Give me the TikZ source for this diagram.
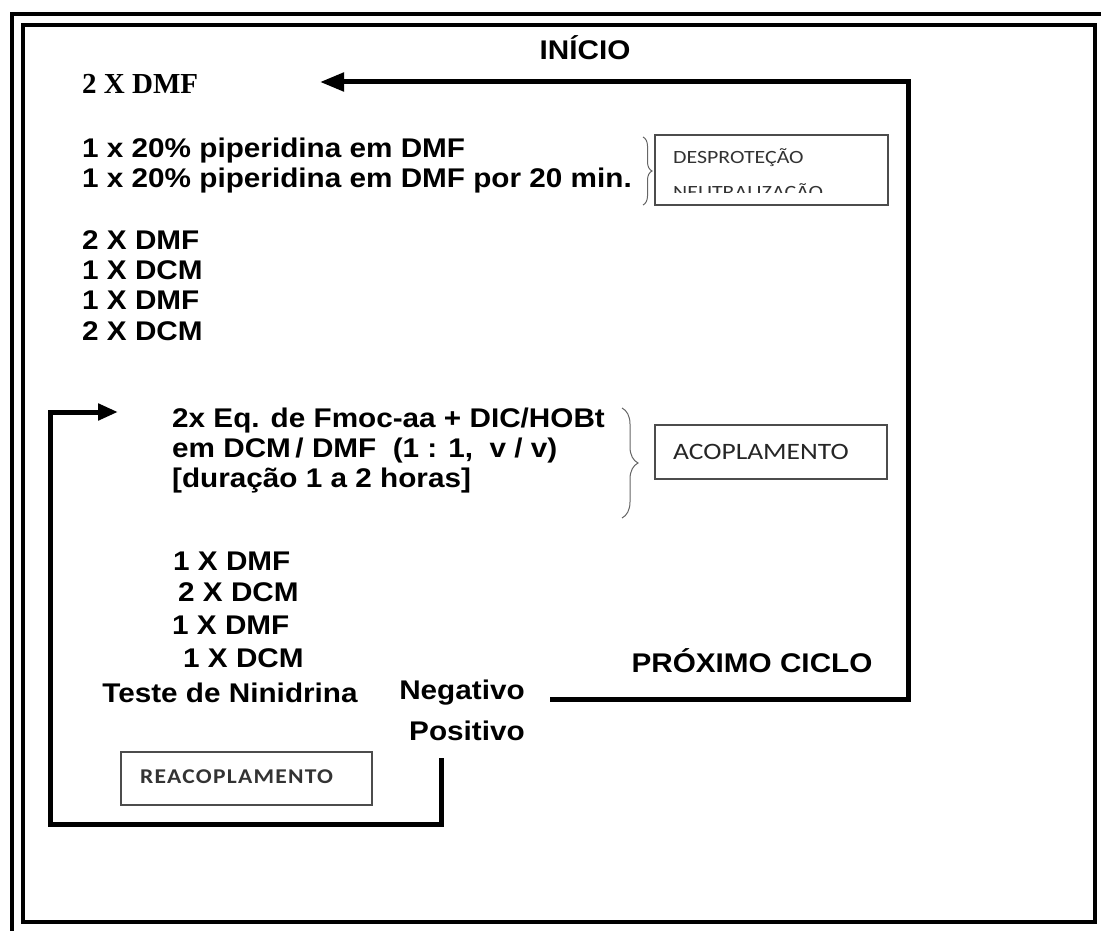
\documentclass[tikz,border=0pt]{standalone}
\usepackage{fontspec}
\setmainfont{Liberation Sans}[FakeStretch=1.1]
\newfontfamily\timesf{Liberation Serif}
\newfontfamily\calib{Carlito}[FakeStretch=1.17]
\newfontfamily\calibls{Carlito}[FakeStretch=1.12,LetterSpace=6]
\usetikzlibrary{arrows.meta,decorations.pathreplacing}
\begin{document}
\begin{tikzpicture}[x=1pt,y=-1pt,
  frame/.style={line width=4pt},
  txt/.style={anchor=west,inner sep=0pt,font=\bfseries\fontsize{27}{30}\selectfont},
  ctxt/.style={inner sep=0pt,font=\bfseries\fontsize{27}{30}\selectfont},
  labbox/.style={draw=black!70,line width=1.6pt,inner sep=0pt},
  boxtxt/.style={anchor=west,inner sep=0pt,text=black!80},
  conn/.style={line width=5pt,line join=miter},
  brc/.style={draw=black!60,line width=1pt,decorate}
]
\useasboundingbox (0,0) rectangle (1101,931);
% frames
\draw[frame] (12,931) -- (12,14) -- (1101,14);
\draw[frame] (23,25) rectangle (1095,922);

% texts
\node[ctxt] (inicio) at (585,48) {INÍCIO};
\node[anchor=west,inner sep=0pt,font=\timesf\bfseries\fontsize{29}{30}\selectfont] (dmf0) at (82,84) {2 X DMF};
\node[txt] (p1) at (82,151) {1 x 20\% piperidina em DMF};
\node[txt] (p2) at (82,181) {1 x 20\% piperidina em DMF por 20 min.};
\node[txt] (w1) at (82,240) {2 X DMF};
\node[txt] (w2) at (82,270) {1 X DCM};
\node[txt] (w3) at (82,300) {1 X DMF};
\node[txt] (w4) at (82,331) {2 X DCM};
\node[txt] (c1) at (172,421) {2x Eq. de Fmoc-aa + DIC/HOBt};
\node[txt] (c2) at (172,451) {em DCM\,/ DMF\ \ (1 : 1,\ \ v / v)};
\node[txt] (c3) at (172,481) {[duração 1 a 2 horas]};
\node[txt] (l1) at (173,561) {1 X DMF};
\node[txt] (l2) at (178,592) {2 X DCM};
\node[txt] (l3) at (172,625) {1 X DMF};
\node[txt] (l4) at (183,658) {1 X DCM};
\node[ctxt] (teste) at (230,693) {Teste de Ninidrina};
\node[ctxt] (neg) at (462,693) {Negativo};
\node[ctxt] (pos) at (467,731) {Positivo};
\node[ctxt] (prox) at (752,661) {PRÓXIMO CICLO};

% label boxes
\node[labbox,minimum width=233pt,minimum height=70pt] (desp) at (771.5,170) {};
\begin{scope}
  \clip (656,136) rectangle (887,193);
  \node[boxtxt,anchor=base west,font=\calib\fontsize{18.7}{22}\selectfont] (despt) at (673,164) {DESPROTEÇÃO};
  \node[boxtxt,anchor=base west,font=\calib\fontsize{18.7}{22}\selectfont] (neut) at (673,198) {NEUTRALIZAÇÃO};
\end{scope}
\draw[brc,decoration={brace,amplitude=9pt}] (643,137) -- (643,205);

\node[labbox,minimum width=232pt,minimum height=54pt] (acop) at (771,452) {};
\node[boxtxt,font=\calib\fontsize{23.5}{28}\selectfont,text=black!85] (acopt) at (673,452) {ACOPLAMENTO};
\draw[brc,decoration={brace,amplitude=16pt}] (622,408) -- (622,518);

\node[labbox,minimum width=251pt,minimum height=53pt] (reac) at (246.5,778.5) {};
\node[boxtxt,font=\calibls\bfseries\fontsize{21}{24}\selectfont] (react) at (140,777) {REACOPLAMENTO};

% connectors
\coordinate (negout) at (550,699);
\coordinate (rc1) at (908,699);
\coordinate (rc2) at (908,82);
\coordinate (topend) at (320,82);
\draw[conn,-{Triangle[length=24pt,width=18pt]}] (negout) -- (rc1) -- (rc2) -- (topend);

\coordinate (posout) at (441,758);
\coordinate (bc1) at (441,824);
\coordinate (bc2) at (50,824);
\coordinate (bc3) at (50,412);
\coordinate (leftend) at (118,412);
\draw[conn,-{Triangle[length=20pt,width=16pt]}] (posout) -- (bc1) -- (bc2) -- (bc3) -- (leftend);
\end{tikzpicture}
\end{document}
